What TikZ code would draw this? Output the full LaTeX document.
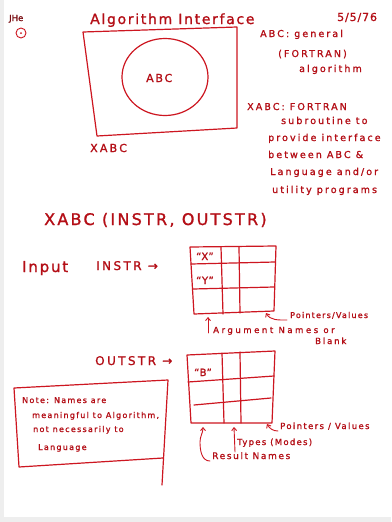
\documentclass[tikz,border=0pt]{standalone}
\usepackage{fontspec}
\newfontfamily\hand[FakeBold=1.2]{DejaVu Sans}
\usetikzlibrary{arrows.meta}
\definecolor{ink}{RGB}{205,22,32}
\definecolor{inktext}{RGB}{180,14,22}
\definecolor{darkink}{RGB}{120,10,15}
\definecolor{paperedge}{RGB}{238,238,238}
\newcommand\handfont[2]{\hand\fontsize{#1}{#1}\selectfont\addfontfeatures{LetterSpace=#2}}
\tikzset{
  pen/.style={draw=ink, line width=1.2pt, line join=round, line cap=round},
  arr/.style={pen, line width=0.9pt, -{Straight Barb[length=3pt,width=5pt]}},
  lab/.style={text=inktext, inner sep=0pt, anchor=base west},
  titletext/.style={lab, font=\handfont{14}{12}},
  sidetext/.style={lab, font=\handfont{9.5}{22}},
  calltext/.style={lab, font=\handfont{16}{14}},
  rowtext/.style={lab, font=\handfont{12}{20}},
  smalltext/.style={lab, font=\handfont{8}{15}},
  notetext/.style={lab, font=\handfont{8}{16}},
  celltext/.style={lab, font=\handfont{10}{6}},
}
\begin{document}
\begin{tikzpicture}[x=1pt,y=-1pt]
\useasboundingbox (0,0) rectangle (391,522);
\fill[white] (0,0) rectangle (391,522);
\fill[paperedge] (0,0) rectangle (4,522);
\fill[paperedge] (0,517) rectangle (391,522);

% header
\node[lab, text=darkink, font=\handfont{8.5}{0}] (init) at (9,21) {JHe};
\node[circle, draw=ink, line width=0.9pt, minimum size=10pt, inner sep=0pt] (pg) at (21,33) {};
\fill[ink] (pg.center) circle (1pt);
\node[titletext] (title) at (90,24) {Algorithm Interface};
\node[lab, font=\handfont{11}{8}] (date) at (337,21) {5/5/76};

% algorithm wrapped by its interface
\coordinate (r1) at (83,32);
\coordinate (r2) at (237,27);
\coordinate (r3) at (237,128);
\coordinate (r4) at (97,136);
\draw[pen] (r1) -- (r2) -- (r3) -- (r4) -- cycle;
\draw[pen] (165,77) ellipse [x radius=43, y radius=38.5];
\node[lab, font=\handfont{11}{16}] (abc) at (146,82) {ABC};
\node[lab, font=\handfont{11}{20}] (xabc) at (90,152) {XABC};

% definitions on the right
\node[sidetext] (d1) at (260,37) {ABC: general};
\node[sidetext] (d2) at (278,57) {(FORTRAN)};
\node[sidetext] (d3) at (299,72) {algorithm};
\node[sidetext] (d4) at (247,110) {XABC: FORTRAN};
\node[sidetext] (d5) at (281,124) {subroutine to};
\node[sidetext] (d6) at (268,141) {provide interface};
\node[sidetext] (d7) at (268,158) {between ABC \&};
\node[sidetext] (d8) at (270,175) {Language and/or};
\node[sidetext] (d9) at (272,193) {utility programs};

% call
\node[calltext] (call) at (44,225) {XABC (INSTR, OUTSTR)};

% input structure
\node[lab, font=\handfont{15}{12}] (input) at (22,272) {Input};
\node[rowtext] (instr) at (96,270) {INSTR →};
\coordinate (a1) at (190,247);
\coordinate (a2) at (276,246);
\coordinate (a3) at (274,311);
\coordinate (a4) at (194,314);
\draw[pen] (a1) -- (a2) -- (a3) -- (a4) -- cycle;
\draw[pen] (191,264) -- (275,262);
\draw[pen] (193,289) -- (274,287);
\draw[pen] (221,247) -- (223,314);
\draw[pen] (239,247) -- (240,313);
\node[celltext] (cx) at (196,260) {“X”};
\node[celltext] (cy) at (196,284) {“Y”};
\coordinate (argtip) at (208,317);
\coordinate (pvtip1) at (266,313);
\node[smalltext] (pv1) at (290,318) {Pointers/Values};
\node[lab, font=\handfont{8.5}{30}] (argn) at (213,333) {Argument Names or};
\node[lab, font=\handfont{8.5}{22}] (blank) at (315,344) {Blank};
\draw[arr] ([xshift=-5pt]argn.base west) -- (argtip);
\draw[arr] ([xshift=-3pt,yshift=-2pt]pv1.base west) to[out=180,in=-60] (pvtip1);

% output structure
\node[rowtext] (outstr) at (95,365) {OUTSTR →};
\coordinate (b1) at (187,355);
\coordinate (b2) at (275,351);
\coordinate (b3) at (272,423);
\coordinate (b4) at (191,423);
\draw[pen] (b1) -- (b2) -- (b3) -- (b4) -- cycle;
\draw[pen] (188,382) -- (274,376);
\draw[pen] (194,405) -- (271,398);
\draw[pen] (222,353) -- (224,423);
\draw[pen] (240,352) -- (241,423);
\node[celltext] (cb) at (194,376) {“B”};
\coordinate (restip) at (203,427);
\coordinate (typtip) at (234,427);
\coordinate (pvtip2) at (267,424);
\node[lab, font=\handfont{8.5}{16}] (pv2) at (280,429) {Pointers / Values};
\node[lab, font=\handfont{8.5}{15}] (types) at (237,445) {Types (Modes)};
\node[lab, font=\handfont{9}{18}] (res) at (212,459) {Result Names};
\draw[arr] ([xshift=-2pt,yshift=-2pt]pv2.base west) to[out=180,in=-60] (pvtip2);
\draw[arr] ([xshift=-2pt,yshift=-7pt]types.base west) -- (typtip);
\draw[arr] ([xshift=-2pt,yshift=-2pt]res.base west) to[out=180,in=-90] (200,442) to[out=90,in=-90] (restip);

% note
\coordinate (n1) at (14,388);
\coordinate (n2) at (168,380);
\coordinate (n3) at (163,458);
\coordinate (n4) at (19,467);
\coordinate (n5) at (162,485);
\draw[pen] (n3) -- (n4) -- (n1) -- (n2) -- (n5);
\node[notetext] (t1) at (22,403) {Note: Names are};
\node[notetext] (t2) at (32,418) {meaningful to Algorithm,};
\node[notetext] (t3) at (33,432) {not necessarily to};
\node[notetext] (t4) at (38,450) {Language};
\end{tikzpicture}
\end{document}
